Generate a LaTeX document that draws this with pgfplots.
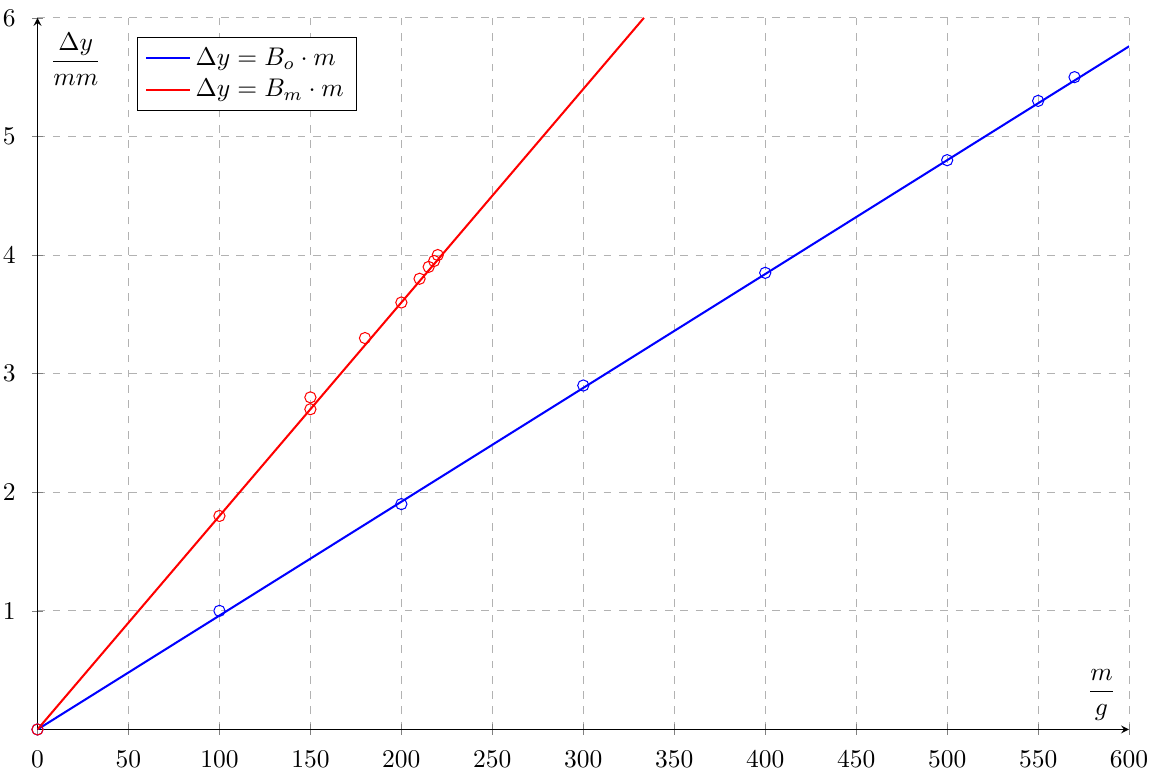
\documentclass[border=0pt]{standalone}
\usepackage{pgfplots}
\pgfplotsset{compat=1.18}
\begin{document}
\begin{tikzpicture}
\begin{axis}[
  scale only axis,
  width=428pt, height=279pt,
  xmin=0, xmax=600, ymin=0, ymax=6,
  axis lines=left,
  xtick={0,50,...,600},
  ytick={1,2,3,4,5,6},
  xticklabel style={inner sep=0pt, yshift=-6pt},
  yticklabel style={inner sep=0pt, xshift=-6.2pt},
  grid=major,
  major grid style={dashed, gray!60},
  every axis x label/.style={at={(rel axis cs:1,0)}, anchor=south east, xshift=-1.7pt, yshift=0pt},
  every axis y label/.style={at={(rel axis cs:0,1)}, anchor=north west, xshift=1.5pt, yshift=-2.5pt},
  xlabel={$\displaystyle\frac{m}{g}$},
  ylabel={$\displaystyle\frac{\Delta y}{mm}$},
  legend style={at={(0.091,0.973)}, anchor=north west, cells={anchor=west}},
  clip=true,
]
\addplot[blue, thick] coordinates {(0,0) (600,5.76)};
\addlegendentry{$\Delta y = B_o\cdot m$}
\addplot[red, thick] coordinates {(0,0) (333.33,6)};
\addlegendentry{$\Delta y = B_m\cdot m$}
\addplot[blue, only marks, mark=o, mark size=2.2pt, forget plot, clip=false] coordinates {
(0,0) (100,1) (200,1.9) (300,2.9) (400,3.85) (500,4.8) (550,5.3) (570,5.5)};
\addplot[red, only marks, mark=o, mark size=2.2pt, forget plot, clip=false] coordinates {
(0,0) (100,1.8) (150,2.7) (150,2.8) (180,3.3) (200,3.6) (210,3.8) (215,3.9) (218,3.95) (220,4.0)};
\end{axis}
\pgfresetboundingbox
\path[use as bounding box] ([shift={(-14.7pt,-17pt)}]current axis.south west) rectangle ([shift={(7.8pt,7pt)}]current axis.north east);
\end{tikzpicture}
\end{document}
